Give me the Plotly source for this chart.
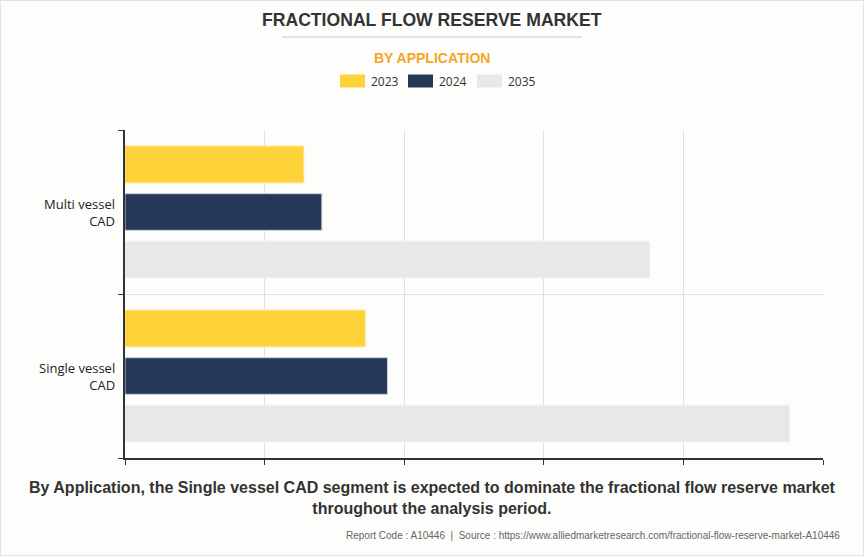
import plotly.graph_objects as go

# ---- data ----
categories = ["Multi vessel<br>CAD", "Single vessel<br>CAD"]
years = ["2023", "2024", "2035"]
values_2023 = [1.28, 1.72]
values_2024 = [1.41, 1.88]
values_2035 = [3.76, 4.76]
x_ticks = [0, 1, 2, 3, 4, 5]

colors = ["#FED33A", "#253858", "#E8E8E8"]
edge_colors = ["#FFE07A", "#C9CFD8", "#EFEFEF"]

W, H = 864, 557
L, R, T, B = 125, 41, 130, 99
PW, PH = W - L - R, H - T - B


def px(x):
    return (x - L) / PW


def py(y):
    return (H - B - y) / PH


series = [values_2023, values_2024, values_2035]
ypos = [i + 0.5 for i in range(len(categories))]

fig = go.Figure()
for name, vals, c, ec in zip(years, series, colors, edge_colors):
    fig.add_trace(go.Bar(
        x=vals, y=ypos, name=name, orientation="h",
        marker=dict(color=c, line=dict(color=ec, width=1)),
        showlegend=False, hoverinfo="x+name",
    ))

font_main = "Liberation Sans, Arial, sans-serif"
font_cat = "Open Sans, Noto Sans, sans-serif"

annotations = []
# category labels
for cat, yp in zip(categories, ypos):
    annotations.append(dict(
        x=0, y=yp, xref="x", yref="y", text=cat, showarrow=False,
        xanchor="right", yanchor="middle", xshift=-8, align="right",
        font=dict(family=font_cat, size=13, color="#222222"),
    ))
# title
annotations.append(dict(
    x=px(432), y=py(20), xref="paper", yref="paper",
    text="<b>FRACTIONAL FLOW RESERVE MARKET</b>", showarrow=False,
    xanchor="center", yanchor="middle",
    font=dict(family=font_main, size=17.6, color="#333333"),
))
annotations.append(dict(
    x=px(432), y=py(58), xref="paper", yref="paper",
    text="<b>BY APPLICATION</b>", showarrow=False,
    xanchor="center", yanchor="middle",
    font=dict(family=font_main, size=14, color="#F5A623"),
))
# bottom text
annotations.append(dict(
    x=px(432), y=py(498), xref="paper", yref="paper",
    text="<b>By Application, the Single vessel CAD segment is expected to dominate the fractional flow reserve market<br>throughout the analysis period.</b>",
    showarrow=False, xanchor="center", yanchor="middle", align="center",
    font=dict(family=font_main, size=16, color="#333333"),
))
annotations.append(dict(
    x=px(842), y=py(535), xref="paper", yref="paper",
    text="Report Code : A10446  |  Source : https://www.alliedmarketresearch.com/fractional-flow-reserve-market-A10446",
    showarrow=False, xanchor="right", yanchor="middle",
    font=dict(family=font_main, size=10, color="#666666"),
))

shapes = []
# outer border
shapes.append(dict(type="rect", xref="paper", yref="paper",
                   x0=px(0.5), x1=px(W - 0.5), y0=py(H - 1.5), y1=py(0.5),
                   line=dict(color="#E3E3E3", width=1), layer="below"))
# title underline
shapes.append(dict(type="line", xref="paper", yref="paper",
                   x0=px(282), x1=px(582), y0=py(37), y1=py(37),
                   line=dict(color="#C8C8C8", width=1)))
# legend
leg_x = [340, 408, 477]
for name, c, lx in zip(years, colors, leg_x):
    shapes.append(dict(type="rect", xref="paper", yref="paper",
                       x0=px(lx), x1=px(lx + 25), y0=py(87.5), y1=py(74.5),
                       fillcolor=c, line=dict(color=c, width=0), layer="above"))
    annotations.append(dict(
        x=px(lx + 29), y=py(81), xref="paper", yref="paper", text=name,
        showarrow=False, xanchor="left", yanchor="middle",
        font=dict(family=font_cat, size=12, color="#333333"),
    ))

fig.update_layout(
    width=W, height=H,
    margin=dict(l=L, r=R, t=T, b=B, pad=0),
    paper_bgcolor="#FDFDFC", plot_bgcolor="#FDFDFC",
    barmode="group", bargap=0.13, bargroupgap=0.23,
    xaxis=dict(range=[0, 5], tickvals=x_ticks, showticklabels=False,
               showgrid=True, gridcolor="#E0E0E0", gridwidth=1,
               showline=True, linecolor="#333333", linewidth=1.5,
               ticks="outside", ticklen=5, tickcolor="#333333",
               zeroline=False, fixedrange=True),
    yaxis=dict(range=[len(categories), 0], tickvals=[0, 1, 2], showticklabels=False,
               showgrid=True, gridcolor="#E0E0E0", gridwidth=1,
               showline=True, linecolor="#333333", linewidth=1.5,
               ticks="outside", ticklen=5, tickcolor="#333333",
               zeroline=False, fixedrange=True),
    annotations=annotations, shapes=shapes,
    showlegend=False,
)

fig.write_html("out.html", config={"displayModeBar": False},
               post_script="document.body.style.margin='0';")
